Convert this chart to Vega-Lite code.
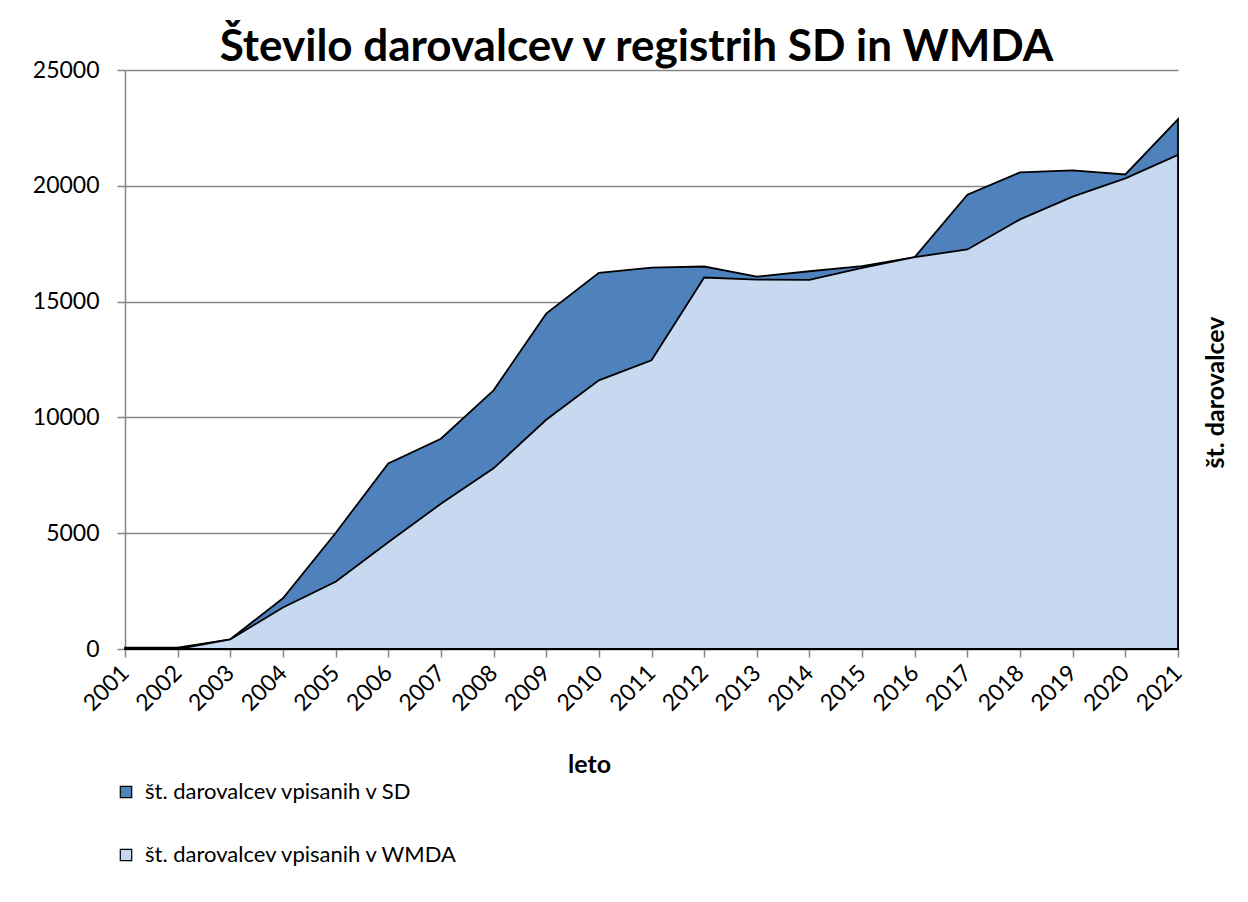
{
  "$schema": "https://vega.github.io/schema/vega-lite/v6.json",
  "autosize": {"type": "none"},
  "width": 1053,
  "height": 579,
  "padding": {"left": 125, "top": 70, "right": 70, "bottom": 253},
  "background": "white",
  "title": {
    "text": "Število darovalcev v registrih SD in WMDA",
    "font": "Lato",
    "fontSize": 44,
    "fontWeight": "bold",
    "color": "black",
    "anchor": "middle",
    "frame": "group",
    "dx": -15,
    "offset": -11
  },
  "data": {
    "values": [
      {"leto": 2001, "serija": "št. darovalcev vpisanih v SD", "vrednost": 60},
      {"leto": 2002, "serija": "št. darovalcev vpisanih v SD", "vrednost": 60},
      {"leto": 2003, "serija": "št. darovalcev vpisanih v SD", "vrednost": 420},
      {"leto": 2004, "serija": "št. darovalcev vpisanih v SD", "vrednost": 2190},
      {"leto": 2005, "serija": "št. darovalcev vpisanih v SD", "vrednost": 5010},
      {"leto": 2006, "serija": "št. darovalcev vpisanih v SD", "vrednost": 8010},
      {"leto": 2007, "serija": "št. darovalcev vpisanih v SD", "vrednost": 9080},
      {"leto": 2008, "serija": "št. darovalcev vpisanih v SD", "vrednost": 11170},
      {"leto": 2009, "serija": "št. darovalcev vpisanih v SD", "vrednost": 14480},
      {"leto": 2010, "serija": "št. darovalcev vpisanih v SD", "vrednost": 16240},
      {"leto": 2011, "serija": "št. darovalcev vpisanih v SD", "vrednost": 16470},
      {"leto": 2012, "serija": "št. darovalcev vpisanih v SD", "vrednost": 16515},
      {"leto": 2013, "serija": "št. darovalcev vpisanih v SD", "vrednost": 16080},
      {"leto": 2014, "serija": "št. darovalcev vpisanih v SD", "vrednost": 16310},
      {"leto": 2015, "serija": "št. darovalcev vpisanih v SD", "vrednost": 16530},
      {"leto": 2016, "serija": "št. darovalcev vpisanih v SD", "vrednost": 16920},
      {"leto": 2017, "serija": "št. darovalcev vpisanih v SD", "vrednost": 19615},
      {"leto": 2018, "serija": "št. darovalcev vpisanih v SD", "vrednost": 20580},
      {"leto": 2019, "serija": "št. darovalcev vpisanih v SD", "vrednost": 20665},
      {"leto": 2020, "serija": "št. darovalcev vpisanih v SD", "vrednost": 20490},
      {"leto": 2021, "serija": "št. darovalcev vpisanih v SD", "vrednost": 22870},
      {"leto": 2001, "serija": "št. darovalcev vpisanih v WMDA", "vrednost": 0},
      {"leto": 2002, "serija": "št. darovalcev vpisanih v WMDA", "vrednost": 0},
      {"leto": 2003, "serija": "št. darovalcev vpisanih v WMDA", "vrednost": 420},
      {"leto": 2004, "serija": "št. darovalcev vpisanih v WMDA", "vrednost": 1790},
      {"leto": 2005, "serija": "št. darovalcev vpisanih v WMDA", "vrednost": 2900},
      {"leto": 2006, "serija": "št. darovalcev vpisanih v WMDA", "vrednost": 4610},
      {"leto": 2007, "serija": "št. darovalcev vpisanih v WMDA", "vrednost": 6270},
      {"leto": 2008, "serija": "št. darovalcev vpisanih v WMDA", "vrednost": 7800},
      {"leto": 2009, "serija": "št. darovalcev vpisanih v WMDA", "vrednost": 9900},
      {"leto": 2010, "serija": "št. darovalcev vpisanih v WMDA", "vrednost": 11600},
      {"leto": 2011, "serija": "št. darovalcev vpisanih v WMDA", "vrednost": 12465},
      {"leto": 2012, "serija": "št. darovalcev vpisanih v WMDA", "vrednost": 16040},
      {"leto": 2013, "serija": "št. darovalcev vpisanih v WMDA", "vrednost": 15950},
      {"leto": 2014, "serija": "št. darovalcev vpisanih v WMDA", "vrednost": 15940},
      {"leto": 2015, "serija": "št. darovalcev vpisanih v WMDA", "vrednost": 16460},
      {"leto": 2016, "serija": "št. darovalcev vpisanih v WMDA", "vrednost": 16920},
      {"leto": 2017, "serija": "št. darovalcev vpisanih v WMDA", "vrednost": 17250},
      {"leto": 2018, "serija": "št. darovalcev vpisanih v WMDA", "vrednost": 18550},
      {"leto": 2019, "serija": "št. darovalcev vpisanih v WMDA", "vrednost": 19530},
      {"leto": 2020, "serija": "št. darovalcev vpisanih v WMDA", "vrednost": 20320},
      {"leto": 2021, "serija": "št. darovalcev vpisanih v WMDA", "vrednost": 21330}
    ]
  },
  "encoding": {
    "x": {
      "field": "leto",
      "type": "ordinal",
      "scale": {"type": "point", "padding": 0},
      "axis": {
        "title": "leto",
        "titleFont": "Lato",
        "titleFontSize": 25,
        "titleFontWeight": "bold",
        "titleColor": "black",
        "titleX": 464,
        "titleY": 115,
        "titleBaseline": "middle",
        "labelAngle": -45,
        "labelAlign": "right",
        "labelBaseline": "middle",
        "labelFont": "Lato",
        "labelFontSize": 23,
        "labelColor": "black",
        "labelPadding": 12,
        "domainColor": "#868686",
        "domainWidth": 1.5,
        "tickColor": "#868686",
        "tickWidth": 1.5,
        "tickSize": 8,
        "grid": false
      }
    },
    "y": {
      "field": "vrednost",
      "type": "quantitative",
      "scale": {"domain": [0, 25000], "nice": false},
      "axis": {
        "values": [0, 5000, 10000, 15000, 20000, 25000],
        "format": "d",
        "title": "št. darovalcev",
        "titleFont": "Lato",
        "titleFontSize": 25,
        "titleFontWeight": "bold",
        "titleColor": "black",
        "titleAngle": -90,
        "titleX": 1090,
        "titleY": 322,
        "titleBaseline": "middle",
        "titleAlign": "center",
        "labelFont": "Lato",
        "labelFontSize": 23,
        "labelColor": "black",
        "labelPadding": 18,
        "domainColor": "#868686",
        "domainWidth": 1.5,
        "tickColor": "#868686",
        "tickWidth": 1.5,
        "tickSize": 8,
        "grid": true,
        "gridColor": "#868686",
        "gridWidth": 1.5
      }
    },
    "color": {
      "field": "serija",
      "type": "nominal",
      "scale": {
        "domain": ["št. darovalcev vpisanih v SD", "št. darovalcev vpisanih v WMDA"],
        "range": ["#4F81BD", "#C6D9F0"]
      },
      "legend": {
        "title": null,
        "orient": "none",
        "direction": "vertical",
        "legendX": -10,
        "legendY": 711,
        "symbolType": "square",
        "symbolSize": 130,
        "symbolStrokeColor": "black",
        "symbolStrokeWidth": 1.2,
        "symbolOpacity": 1,
        "labelFont": "Lato",
        "labelFontSize": 22,
        "labelColor": "black",
        "labelOffset": 8,
        "labelLimit": 0,
        "rowPadding": 41
      }
    }
  },
  "layer": [
    {
      "transform": [{"filter": "datum.serija === 'št. darovalcev vpisanih v SD'"}],
      "mark": {"type": "area", "stroke": "black", "strokeWidth": 1.8, "opacity": 1, "fillOpacity": 1}
    },
    {
      "transform": [{"filter": "datum.serija === 'št. darovalcev vpisanih v WMDA'"}],
      "mark": {"type": "area", "stroke": "black", "strokeWidth": 1.8, "opacity": 1, "fillOpacity": 1}
    }
  ],
  "config": {
    "view": {"stroke": null}
  }
}
